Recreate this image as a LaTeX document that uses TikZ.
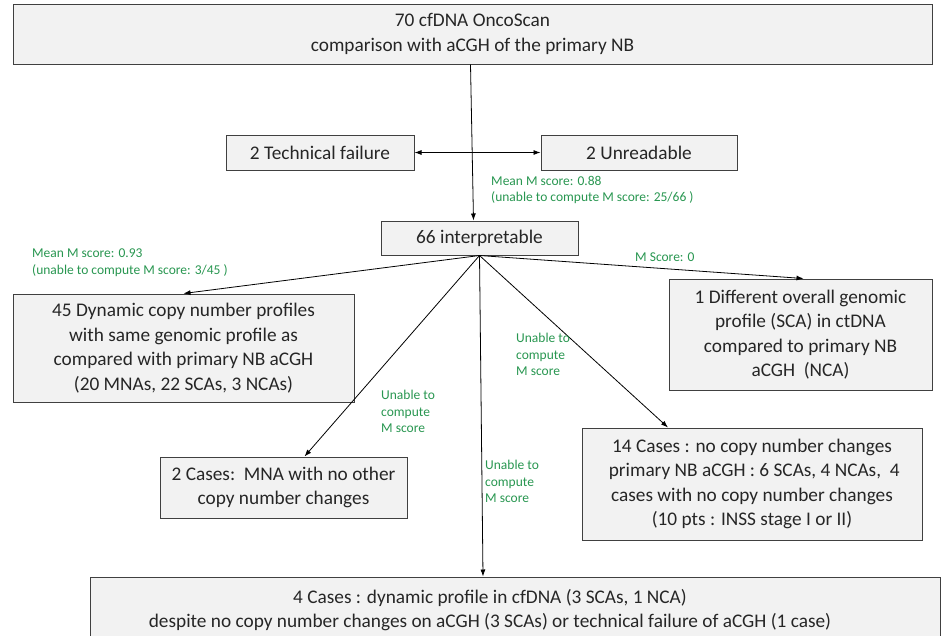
\documentclass[tikz,border=0pt]{standalone}
\usepackage{fontspec}
\setmainfont{Carlito}
\usetikzlibrary{arrows.meta}
\definecolor{boxfill}{RGB}{242,242,242}
\definecolor{boxline}{RGB}{64,64,64}
\definecolor{boxtext}{RGB}{38,38,38}
\definecolor{mgreen}{RGB}{40,150,80}

\begin{document}
\begin{tikzpicture}[x=1pt, y=-1pt,
    box/.style={draw=boxline, fill=boxfill, line width=1pt, text=boxtext,
        align=center, inner sep=0pt, font=\fontsize{19.3}{24.5}\selectfont},
    note/.style={text=mgreen, align=left, inner sep=0pt, anchor=north west,
        font=\fontsize{13.5}{16.5}\selectfont},
    link/.style={line width=0.8pt, -{Latex[length=7pt,width=5pt]}}
    ]

    \useasboundingbox (0,0) rectangle (944,635);
    \clip (0,0) rectangle (944,635);

    % 70 cfDNA
    \node[box, minimum width=919pt, minimum height=60pt] (top) at (472.5,34)
        {70 cfDNA OncoScan\\comparison with aCGH of the primary NB};

    % failures
    \node[box, minimum width=188pt, minimum height=35pt] (tech) at (320,152.5)
        {2 Technical failure};
    \node[box, minimum width=196pt, minimum height=35pt] (unread) at (639,152.5)
        {2 Unreadable};

    % 66 interpretable
    \node[box, minimum width=197pt, minimum height=34pt] (interp) at (479.5,238)
        {66 interpretable};

    % outcomes
    \node[box, minimum width=341pt, minimum height=108pt] (dyn) at (183.5,348)
        {45 Dynamic copy number profiles\\with same genomic profile as\\
         compared with primary NB aCGH\\(20 MNAs, 22 SCAs, 3 NCAs)};
    \node[box, minimum width=263pt, minimum height=111pt] (diff) at (800.5,334.5)
        {1 Different overall genomic\\profile (SCA) in ctDNA\\
         compared to primary NB\\aCGH~~(NCA)};
    \node[box, minimum width=247pt, minimum height=61pt] (mna) at (283.5,487.5)
        {2 Cases:~~MNA with no other\\copy number changes};
    \node[box, minimum width=340pt, minimum height=112pt] (nochg) at (752,484)
        {14 Cases : no copy number changes\\
         ~primary NB aCGH : 6 SCAs, 4 NCAs,~~4\\
         cases with no copy number changes\\(10 pts : INSS stage I or II)};
    \node[box, minimum width=850pt, minimum height=84pt] (dynfree) at (515,619)
        {};
    \node[box, draw=none, fill=none] (dyntext) at (490,610)
        {4 Cases : dynamic profile in cfDNA (3 SCAs, 1 NCA)\\
         despite no copy number changes on aCGH (3 SCAs) or technical failure of aCGH (1 case)};

    % connectors
    \draw[link] ([xshift=-2pt]top.south) -- ([xshift=-6pt]interp.north);
    \draw[line width=0.8pt, {Latex[length=7pt,width=5pt]}-{Latex[length=7pt,width=5pt]}]
        (tech.east) -- (unread.west);
    \draw[link] (interp.south) -- (dyn.north);
    \draw[link] (interp.south) -- ([xshift=3pt]diff.north);
    \draw[link] (interp.south) -- ([xshift=21pt]mna.north);
    \draw[link] (interp.south) -- ([xshift=-84pt]nochg.north);
    \draw[link] (interp.south) -- ([xshift=-32pt]dynfree.north);

    % M scores
    \node[note] (m88) at (491,176) {Mean M score: 0.88\\(unable to compute M score: 25/66 )};
    \node[note] (m93) at (32,249) {Mean M score: 0.93\\(unable to compute M score: 3/45 )};
    \node[note] (m0) at (635,253) {M Score: 0};
    \node[note] (u1) at (516,333) {Unable to\\compute\\M score};
    \node[note] (u2) at (381,390) {Unable to\\compute\\M score};
    \node[note] (u3) at (485,460) {Unable to\\compute\\M score};

\end{tikzpicture}
\end{document}
